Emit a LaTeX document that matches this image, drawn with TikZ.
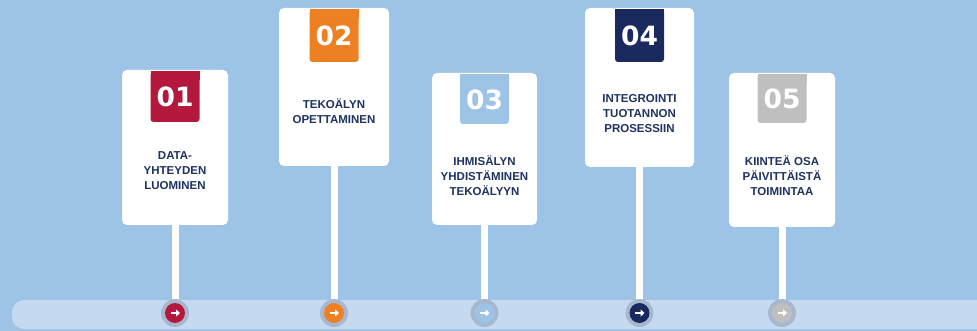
\documentclass[tikz,border=0pt]{standalone}
\usepackage{fontspec}
\setmainfont{Liberation Sans}
\newfontfamily\numfont{DejaVu Sans}
\usetikzlibrary{arrows.meta}
\definecolor{bg}{HTML}{9DC3E6}
\definecolor{bandc}{HTML}{C5DAF1}
\definecolor{redc}{HTML}{B4193D}
\definecolor{orangec}{HTML}{EE8024}
\definecolor{lightc}{HTML}{9DC3E6}
\definecolor{navyc}{HTML}{1B2A5E}
\definecolor{grayc}{HTML}{BFBFBF}
\definecolor{txtc}{HTML}{1F3262}
\definecolor{haloc}{HTML}{A7B8CE}
\tikzset{
  card/.style={fill=white, rounded corners=5pt, inner sep=0pt},
  numlabel/.style={text=white, font=\numfont\bfseries\fontsize{26.5}{26.5}\selectfont, inner sep=0pt},
  steplabel/.style={text=txtc, align=center, font=\bfseries\fontsize{11.5}{15}\selectfont, inner sep=0pt},
  stemline/.style={white, line width=7pt},
  halo/.style={circle, fill=haloc, minimum size=28pt, inner sep=0pt},
  dotnode/.style={circle, minimum size=20pt, inner sep=0pt},
  arr/.style={white, line width=1.7pt, -{Triangle[length=4pt,width=7pt]}}
}
\begin{document}
\begin{tikzpicture}[x=1pt,y=-1pt]
\useasboundingbox (0,0) rectangle (977,331);
\fill[bg] (0,0) rectangle (977,331);
\begin{scope}
\clip (0,0) rectangle (977,331);
\fill[bandc, rounded corners=12pt] (12,300) rectangle (1010,329);
\end{scope}
\foreach \i/\cx/\w/\ct/\cb/\tb/\col/\num/\ty/\txt in {
  1/175/106/70/225/122/redc/01/171/{DATA-\\YHTEYDEN\\LUOMINEN},
  2/334/110/8/166/62/orangec/02/111/{TEKOÄLYN\\OPETTAMINEN},
  3/484.5/105/73/225/124/lightc/03/176/{IHMISÄLYN\\YHDISTÄMINEN\\TEKOÄLYYN},
  4/639.5/109/8/167/62/navyc/04/113.5/{INTEGROINTI\\TUOTANNON\\PROSESSIIN},
  5/782/106/73/227/123/grayc/05/176/{KIINTEÄ OSA\\PÄIVITTÄISTÄ\\TOIMINTAA}}{
  % card
  \node[card, minimum width=\w pt, minimum height={(\cb-\ct)*1pt}] (c\i) at (\cx,{(\ct+\cb)/2}) {};
  % tag
  \fill[\col, rounded corners=3pt] (\cx-24.5,\ct+1.5) rectangle (\cx+24.5,\tb);
  \fill[\col] (\cx-24.5,\ct+1.5) rectangle (\cx+24.5,\ct+10);
  \node[numlabel] (t\i) at (\cx,{(\ct+\tb)/2+1}) {\num};
  % text
  \node[steplabel] (l\i) at (\cx,\ty) {\txt};
  % stem and dot
  \coordinate (pc\i) at (\cx,313);
  \draw[stemline] (c\i.south) -- (pc\i);
  \node[halo] (h\i) at (pc\i) {};
  \node[dotnode, fill=\col] (p\i) at (pc\i) {};
  \draw[arr] ([xshift=-4.5pt]p\i.center) -- ([xshift=5pt]p\i.center);
}
\end{tikzpicture}
\end{document}
